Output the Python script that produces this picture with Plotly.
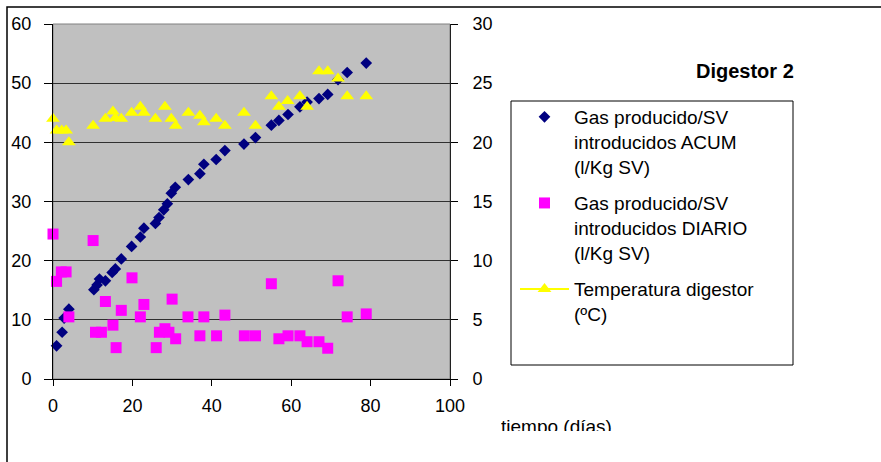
import plotly.graph_objects as go

# Daily readings for digester 2
dias = [0, 0.9, 2.1, 3.3, 4.0, 10.1, 10.7, 12.2, 13.2, 15.1, 15.9, 17.2, 19.9,
        22.0, 22.9, 26.0, 26.8, 28.2, 29.2, 30.0, 30.9, 34.0, 37.0, 38.0, 41.2,
        43.3, 48.2, 51.0, 55.0, 56.9, 59.2, 62.2, 64.0, 67.0, 69.2, 71.8, 74.1, 78.9]

gas_diario = [24.5, 16.5, 18.1, 18.1, 10.5, 23.4, 7.9, 7.9, 13.1, 9.1, 5.3, 11.6, 17.1,
              10.5, 12.6, 5.3, 7.9, 8.5, 7.9, 13.5, 6.8, 10.5, 7.3, 10.5, 7.3,
              10.8, 7.3, 7.3, 16.1, 6.8, 7.3, 7.3, 6.3, 6.3, 5.2, 16.6, 10.5, 11.0]

dias_acum = [0.9, 2.3, 2.8, 4.0, 10.3, 11.1, 11.7, 13.2, 14.9, 15.7, 17.2, 19.8,
             22.0, 22.9, 25.8, 26.7, 27.9, 28.8, 29.8, 30.8, 34.1, 37.0, 38.0, 41.1,
             43.3, 48.1, 51.0, 55.0, 56.9, 59.2, 62.2, 64.0, 67.0, 69.2, 71.8, 74.1, 78.9]
gas_acum = [5.6, 7.9, 10.3, 11.8, 15.1, 15.9, 16.9, 16.6, 18.0, 18.6, 20.3, 22.4,
            24.0, 25.5, 26.3, 27.3, 28.6, 29.6, 31.4, 32.4, 33.7, 34.7, 36.3, 37.1,
            38.6, 39.7, 40.8, 42.9, 43.7, 44.7, 46.0, 46.8, 47.4, 48.1, 50.6, 51.8, 53.4]

dias_temp = [0, 0.9, 2.2, 3.3, 4.0, 10.1, 13.2, 15.1, 15.7, 17.2, 19.8, 22.0, 22.9,
             25.8, 28.2, 29.8, 30.9, 34.1, 37.0, 38.0, 41.1, 43.3, 48.1, 51.0,
             55.0, 56.9, 59.1, 62.2, 64.0, 67.0, 69.2, 71.8, 74.1, 78.9]
temperatura = [22.0, 21.0, 21.0, 21.0, 20.0, 21.4, 22.0, 22.6, 22.05, 22.0, 22.5, 23.0, 22.5,
               22.0, 23.0, 22.0, 21.4, 22.5, 22.25, 21.7, 22.0, 21.4, 22.5, 21.4,
               23.9, 23.0, 23.5, 23.9, 23.0, 26.0, 26.0, 25.4, 23.9, 23.9]

x_ticks = [0, 20, 40, 60, 80, 100]

W, H = 881, 462
L, R, T, B = 53, 431, 24, 83
PW, PH = W - L - R, H - T - B


def px_x(p):
    return (p - L) / PW


def px_y(p):
    return (H - B - p) / PH


FONT = "Liberation Sans, Arial, sans-serif"

fig = go.Figure()

fig.add_trace(go.Scatter(
    x=dias_acum, y=gas_acum, mode="markers", cliponaxis=False,
    name="Gas producido/SV<br>introducidos ACUM<br>(l/Kg SV)",
    marker=dict(symbol="diamond", size=9, color="#000080"),
    legendgroup="a",
))
fig.add_trace(go.Scatter(
    x=dias, y=gas_diario, mode="markers", cliponaxis=False,
    name="Gas producido/SV<br>introducidos DIARIO<br>(l/Kg SV)",
    marker=dict(symbol="square", size=11, color="#FF00FF"),
    legendgroup="b",
))
fig.add_trace(go.Scatter(
    x=dias_temp, y=temperatura, mode="markers", yaxis="y2", cliponaxis=False,
    marker=dict(symbol="triangle-up", size=12, color="#FFFF00"),
    showlegend=False, legendgroup="c",
))
# legend entry for the temperature series (line + marker sample)
fig.add_trace(go.Scatter(
    x=[None], y=[None], mode="lines+markers", yaxis="y2",
    name="Temperatura digestor<br>(ºC)",
    line=dict(color="#FFFF00", width=2),
    marker=dict(symbol="triangle-up", size=12, color="#FFFF00"),
    legendgroup="c",
))

shapes = [
    # outer chart frame
    dict(type="rect", xref="paper", yref="paper",
         x0=px_x(7), x1=px_x(W + 20), y0=px_y(H + 20), y1=px_y(7),
         line=dict(color="black", width=1.5), layer="below"),
    # plot-area border
    dict(type="rect", xref="paper", yref="paper", x0=0, x1=1, y0=0, y1=1,
         line=dict(color="#808080", width=1), layer="below"),
    # legend box
    dict(type="rect", xref="paper", yref="paper",
         x0=px_x(511), x1=px_x(793), y0=px_y(365), y1=px_y(101),
         line=dict(color="black", width=1), fillcolor="white", layer="below"),
]

annotations = [
    dict(text="<b>Digestor 2</b>", xref="paper", yref="paper",
         x=px_x(745), y=px_y(71), xanchor="center", yanchor="middle",
         showarrow=False, font=dict(family=FONT, size=20, color="black")),
    dict(text="tiempo (días)", xref="paper", yref="paper",
         x=px_x(499), y=px_y(414), xanchor="left", yanchor="top",
         valign="top", height=15, showarrow=False,
         font=dict(family=FONT, size=19, color="black")),
]

fig.update_layout(
    width=W, height=H,
    margin=dict(l=L, r=R, t=T, b=B, pad=0),
    paper_bgcolor="white", plot_bgcolor="#C0C0C0",
    font=dict(family=FONT, size=18, color="black"),
    showlegend=True,
    legend=dict(
        x=px_x(515), y=px_y(98), xanchor="left", yanchor="top",
        bgcolor="rgba(0,0,0,0)", borderwidth=0,
        font=dict(family=FONT, size=19, color="black"),
        valign="top", itemwidth=49, tracegroupgap=9,
        itemsizing="trace",
    ),
    xaxis=dict(
        range=[0, 100], tickvals=x_ticks, showgrid=False, zeroline=False,
        showline=True, linecolor="black", linewidth=1,
        ticks="outside", ticklen=6, tickcolor="black",
        ticklabelstandoff=4,
    ),
    xaxis2=dict(
        range=[0, 100], tickvals=x_ticks, overlaying="x", side="bottom",
        showgrid=False, zeroline=False, showline=False,
        ticks="inside", ticklen=6, tickcolor="black", showticklabels=False,
    ),
    yaxis=dict(
        range=[0, 60], dtick=10, showgrid=True, gridcolor="#303030", gridwidth=1,
        zeroline=False, showline=True, linecolor="black", linewidth=1,
        ticks="outside", ticklen=8, tickcolor="black",
        ticklabelstandoff=9,
    ),
    yaxis2=dict(
        range=[0, 30], dtick=5, overlaying="y", side="right", showgrid=False,
        zeroline=False, showline=True, linecolor="#202020", linewidth=1,
        ticks="outside", ticklen=7, tickcolor="black",
        ticklabelstandoff=11,
    ),
    yaxis3=dict(
        range=[0, 30], dtick=5, overlaying="y", side="right", showgrid=False,
        zeroline=False, showline=False, showticklabels=False,
        ticks="inside", ticklen=7, tickcolor="black",
    ),
    shapes=shapes,
    annotations=annotations,
)

fig.write_html("out.html")
